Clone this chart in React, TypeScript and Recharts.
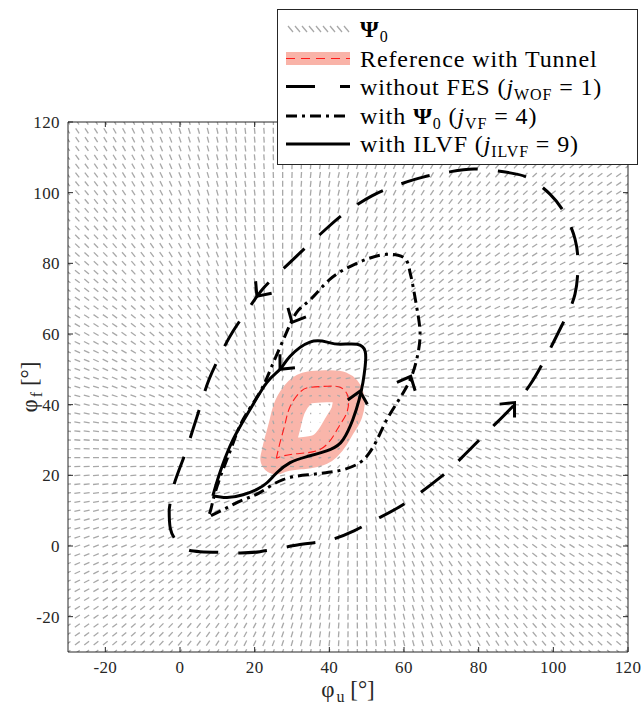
import React from 'react';
import { ComposedChart, Line, Scatter, XAxis, YAxis, ReferenceArea, Legend } from 'recharts';

const W = 643;
const H = 704;
const PLOT = { left: 68, top: 122, right: 628, bottom: 652 };
const DOMAIN: [number, number] = [-30, 120];
const PX_U = (PLOT.right - PLOT.left) / (DOMAIN[1] - DOMAIN[0]);
const PX_F = (PLOT.bottom - PLOT.top) / (DOMAIN[1] - DOMAIN[0]);
const FONT = 'Liberation Serif, DejaVu Serif, serif';
const INK = '#262626';

const xTicks = [-20, 0, 20, 40, 60, 80, 100, 120];
const yTicks = [-20, 0, 20, 40, 60, 80, 100, 120];

const withoutFES: [number, number][] = [
  [-2.9, 10.3], [-2.6, 5.0], [-1.0, 1.5], [1.5, -0.8], [5.4, -1.6], [13.4, -1.9], [21.4, -1.6],
  [32.1, 0.4], [39.4, 1.5], [46.6, 4.3], [52.8, 7.7], [59.7, 11.7], [69.7, 19.4], [76.3, 25.9],
  [83.0, 33.0], [88.4, 38.7], [93.8, 45.7], [99.1, 55.7], [103.1, 64.2], [105.8, 71.3],
  [106.6, 79.8], [105.8, 86.9], [103.1, 94.0], [99.1, 99.6], [93.8, 103.9], [88.4, 105.6],
  [79.0, 106.7], [71.8, 105.8], [65.1, 104.4], [57.6, 101.9], [51.4, 99.1], [44.5, 94.5],
  [39.4, 90.0], [33.5, 84.3], [28.7, 79.5], [22.8, 73.5], [18.8, 67.9], [14.2, 60.8],
  [11.0, 54.5], [7.8, 47.2], [5.6, 40.1], [3.2, 32.1], [1.1, 25.3], [-1.6, 17.4], [-2.9, 10.3],
];

const withPsi0: [number, number][] = [
  [8.3, 8.6], [12.5, 10.8], [16.9, 13.1], [21.4, 15.1], [27.6, 18.8], [34.8, 20.2], [39.4, 20.8],
  [43.7, 21.6], [48.2, 23.6], [50.8, 26.5], [52.8, 30.1], [55.0, 35.0], [57.5, 39.5], [60.3, 44.3],
  [62.4, 49.1], [63.8, 54.8], [64.3, 60.5], [63.5, 67.0], [62.2, 74.7], [61.6, 77.5], [60.8, 80.6],
  [58.4, 82.3], [53.6, 82.3], [46.9, 79.8], [40.2, 75.5], [35.1, 69.9], [31.3, 66.2], [28.1, 59.4],
  [24.6, 50.9], [21.4, 43.5], [16.9, 35.8], [13.9, 28.2], [11.5, 21.6], [9.4, 15.1], [8.3, 10.5],
  [7.8, 9.0],
];

const withILVF: [number, number][] = [
  [8.8, 14.2], [12.6, 13.7], [16.9, 14.5], [20.6, 16.0], [23.3, 17.9], [26.0, 20.8], [29.5, 23.6],
  [34.0, 25.3], [40.2, 27.3], [43.7, 30.1], [46.3, 35.8], [48.0, 41.5], [49.0, 46.3], [49.6, 50.9],
  [49.6, 55.1], [47.4, 57.1], [42.9, 57.1], [39.4, 57.7], [34.8, 57.7], [29.5, 53.7], [26.8, 50.0],
  [23.3, 46.3], [18.8, 38.7], [14.2, 30.1], [10.7, 20.8], [8.8, 14.2],
];

const reference: [number, number][] = [
  [25.8, 24.8], [26.8, 29.3], [28.1, 34.4], [29.5, 39.5], [32.1, 43.5], [34.8, 44.9], [39.4, 45.2],
  [42.9, 44.9], [45.0, 42.3], [44.7, 37.8], [42.9, 34.4], [41.0, 31.0], [37.5, 27.3], [32.1, 26.2],
  [27.6, 25.5], [25.8, 24.8],
];

const arrowsWOF = [
  { u: 20.6, f: 70.7, du: -4.0, df: -5.6 },
  { u: 89.6, f: 40.6, du: 10.8, df: 12.7 },
];
const arrowsVF = [
  { u: 30.0, f: 63.3, du: -3.2, df: -6.8 },
  { u: 61.8, f: 48.0, du: 2.1, df: 4.8 },
];
const arrowsILVF = [
  { u: 26.8, f: 50.0, du: -6.2, df: -7.4 },
  { u: 48.2, f: 43.8, du: 1.0, df: 4.8 },
];

const FIELD_STEP = 2.5;
const FIELD_CENTER = { u: 37, f: 34 };
const FIELD_REF_RADIUS = 9;
const FIELD_SWIRL = 8;
const FIELD_MARK_LEN = 6;

const gridCoords: number[] = [];
for (let v = DOMAIN[0]; v <= DOMAIN[1] + 1e-9; v += FIELD_STEP) gridCoords.push(v);

const fieldData = (() => {
  const out: any[] = [];
  for (const u of gridCoords) {
    for (const f of gridCoords) {
      const du = u - FIELD_CENTER.u;
      const df = f - FIELD_CENTER.f;
      const d = Math.hypot(du, df) || 1e-6;
      const ru = du / d;
      const rf = df / d;
      const n = -(d - FIELD_REF_RADIUS);
      const vu = n * ru - FIELD_SWIRL * rf;
      const vf = n * rf + FIELD_SWIRL * ru;
      const sx = vu * PX_U;
      const sy = -vf * PX_F;
      const m = Math.hypot(sx, sy) || 1;
      const len = FIELD_MARK_LEN * Math.min(1, d / 20);
      out.push({ u, f, hx: (sx / m) * len / 2, hy: (sy / m) * len / 2 });
    }
  }
  return out;
})();

const toRows = (pts: [number, number][]) => pts.map(([u, f]) => ({ u, f }));

const FieldMark = (props: any) => {
  const { cx, cy, payload } = props;
  if (cx == null || cy == null) return <g />;
  return (
    <line
      x1={cx - payload.hx}
      y1={cy - payload.hy}
      x2={cx + payload.hx}
      y2={cy + payload.hy}
      stroke="#a8a8a8"
      strokeWidth={1.3}
    />
  );
};

const ArrowHead = (props: any) => {
  const { cx, cy, payload } = props;
  if (cx == null || cy == null) return <g />;
  const sx = payload.du * PX_U;
  const sy = -payload.df * PX_F;
  const m = Math.hypot(sx, sy) || 1;
  const bx = -sx / m;
  const by = -sy / m;
  const a = (42 * Math.PI) / 180;
  const L = 15;
  const r = (ang: number) => [bx * Math.cos(ang) - by * Math.sin(ang), bx * Math.sin(ang) + by * Math.cos(ang)];
  const [ax1, ay1] = r(a);
  const [ax2, ay2] = r(-a);
  return (
    <polyline
      points={`${cx + ax1 * L},${cy + ay1 * L} ${cx},${cy} ${cx + ax2 * L},${cy + ay2 * L}`}
      fill="none"
      stroke="#000"
      strokeWidth={3}
    />
  );
};

const XTick = (props: any) => {
  const { x, payload } = props;
  return (
    <g>
      <line x1={x} x2={x} y1={PLOT.bottom} y2={PLOT.bottom - 5} stroke={INK} />
      <line x1={x} x2={x} y1={PLOT.top} y2={PLOT.top + 5} stroke={INK} />
      <text x={x} y={PLOT.bottom + 21} textAnchor="middle" fontFamily={FONT} fontSize={17} fill={INK} letterSpacing={0.4}>
        {payload.value}
      </text>
    </g>
  );
};

const YTick = (props: any) => {
  const { y, payload } = props;
  return (
    <g>
      <line x1={PLOT.left} x2={PLOT.left + 5} y1={y} y2={y} stroke={INK} />
      <line x1={PLOT.right} x2={PLOT.right - 5} y1={y} y2={y} stroke={INK} />
      <text x={PLOT.left - 8} y={y + 6} textAnchor="end" fontFamily={FONT} fontSize={17} fill={INK} letterSpacing={0.4}>
        {payload.value}
      </text>
    </g>
  );
};

const XLabel = () => (
  <text x={(PLOT.left + PLOT.right) / 2} y={697} textAnchor="middle" fontFamily={FONT} fontSize={23} fill={INK}>
    φ<tspan fontSize={16} dx={2} dy={5}>u</tspan>
    <tspan dy={-5}> [°]</tspan>
  </text>
);

const YLabel = () => {
  const cx = 37;
  const cy = (PLOT.top + PLOT.bottom) / 2;
  return (
    <text x={cx} y={cy} transform={`rotate(-90, ${cx}, ${cy})`} textAnchor="middle" fontFamily={FONT} fontSize={23} fill={INK}>
      φ<tspan fontSize={16} dx={2} dy={5}>f</tspan>
      <tspan dy={-5}> [°]</tspan>
    </text>
  );
};

const LEG = { left: 277, top: 9, width: 361, height: 156 };
const legendRows = [20, 49.5, 77.5, 107, 135];

const LegendContent = () => {
  const x0 = 9;
  const x1 = 73;
  const tx = 83;
  const ts = { fontFamily: FONT, fontSize: 24, fill: '#000', letterSpacing: 0.9 } as any;
  const marks = [];
  for (let i = 0; i < 9; i++) {
    const mx = x0 + 2 + i * 7;
    marks.push(<line key={i} x1={mx} y1={legendRows[0] - 3} x2={mx + 5} y2={legendRows[0] + 3} stroke="#a8a8a8" strokeWidth={1.3} />);
  }
  return (
    <svg width={LEG.width} height={LEG.height} style={{ display: 'block' }}>
      <rect x={0.5} y={0.5} width={LEG.width - 1} height={LEG.height - 1} fill="#fff" stroke={INK} strokeWidth={1} />
      {marks}
      <text x={tx} y={legendRows[0] + 8} {...ts}>
        <tspan fontWeight="bold">Ψ</tspan>
        <tspan fontSize={16} dy={5}>0</tspan>
      </text>
      <rect x={x0} y={legendRows[1] - 6.5} width={x1 - x0} height={13} fill="#f9b3a8" />
      <line x1={x0} x2={x1} y1={legendRows[1]} y2={legendRows[1]} stroke="#ff1a1a" strokeWidth={1.2} strokeDasharray="9 6" />
      <text x={tx} y={legendRows[1] + 8} {...ts}>Reference with Tunnel</text>
      <line x1={x0} x2={x1} y1={legendRows[2]} y2={legendRows[2]} stroke="#000" strokeWidth={3} strokeDasharray="29 25" />
      <text x={tx} y={legendRows[2] + 8} {...ts}>
        without FES (<tspan fontStyle="italic">j</tspan>
        <tspan fontSize={16} dy={5}>WOF</tspan>
        <tspan dy={-5}> = 1)</tspan>
      </text>
      <line x1={x0} x2={x1} y1={legendRows[3]} y2={legendRows[3]} stroke="#000" strokeWidth={3} strokeDasharray="11 5 3 5" />
      <text x={tx} y={legendRows[3] + 8} {...ts}>
        with <tspan fontWeight="bold">Ψ</tspan>
        <tspan fontSize={16} dy={5}>0</tspan>
        <tspan dy={-5}> (</tspan>
        <tspan fontStyle="italic">j</tspan>
        <tspan fontSize={16} dy={5}>VF</tspan>
        <tspan dy={-5}> = 4)</tspan>
      </text>
      <line x1={x0} x2={x1} y1={legendRows[4]} y2={legendRows[4]} stroke="#000" strokeWidth={3} />
      <text x={tx} y={legendRows[4] + 8} {...ts}>
        with ILVF (<tspan fontStyle="italic">j</tspan>
        <tspan fontSize={16} dy={5}>ILVF</tspan>
        <tspan dy={-5}> = 9)</tspan>
      </text>
    </svg>
  );
};

export default function App() {
  return (
    <div style={{ position: 'absolute', left: 0, top: 0, width: W, height: H, background: '#fff' }}>
      <ComposedChart
        width={W}
        height={H}
        margin={{ top: PLOT.top, right: W - PLOT.right, bottom: 0, left: 0 }}
      >
        <XAxis
          type="number"
          dataKey="u"
          domain={DOMAIN}
          ticks={xTicks}
          interval={0}
          allowDataOverflow
          height={H - PLOT.bottom}
          axisLine={false}
          tickLine={false}
          tick={<XTick />}
          label={{ content: () => <XLabel /> }}
        />
        <YAxis
          type="number"
          dataKey="f"
          domain={DOMAIN}
          ticks={yTicks}
          interval={0}
          allowDataOverflow
          width={PLOT.left}
          axisLine={false}
          tickLine={false}
          tick={<YTick />}
          label={{ content: () => <YLabel /> }}
        />
        <Line data={toRows(reference)} dataKey="f" type="natural" stroke="#f9b5aa" strokeWidth={32}
          strokeLinejoin="round" strokeLinecap="round" dot={false} activeDot={false} isAnimationActive={false} zIndex={100} />
        <Scatter data={fieldData} shape={<FieldMark />} isAnimationActive={false} zIndex={150} />
        <Line data={toRows(reference)} dataKey="f" type="natural" stroke="#ff1a1a" strokeWidth={1.1} strokeDasharray="8 4"
          dot={false} activeDot={false} isAnimationActive={false} zIndex={200} />
        <Line data={toRows(withoutFES)} dataKey="f" type="natural" stroke="#000" strokeWidth={3} strokeDasharray="29 20"
          dot={false} activeDot={false} isAnimationActive={false} zIndex={300} />
        <Line data={toRows(withPsi0)} dataKey="f" type="natural" stroke="#000" strokeWidth={3} strokeDasharray="11 5 3 5"
          dot={false} activeDot={false} isAnimationActive={false} zIndex={300} />
        <Line data={toRows(withILVF)} dataKey="f" type="natural" stroke="#000" strokeWidth={3}
          dot={false} activeDot={false} isAnimationActive={false} zIndex={300} />
        <Scatter data={[...arrowsWOF, ...arrowsVF, ...arrowsILVF]} shape={<ArrowHead />} isAnimationActive={false} zIndex={400} />
        <ReferenceArea x1={DOMAIN[0]} x2={DOMAIN[1]} y1={DOMAIN[0]} y2={DOMAIN[1]} fill="none" fillOpacity={0}
          stroke={INK} strokeWidth={1} ifOverflow="visible" zIndex={500} />
        <Legend
          layout="vertical"
          align="center"
          verticalAlign="middle"
          wrapperStyle={{ left: LEG.left, top: LEG.top, width: LEG.width, height: LEG.height }}
          content={() => <LegendContent />}
        />
      </ComposedChart>
    </div>
  );
}
